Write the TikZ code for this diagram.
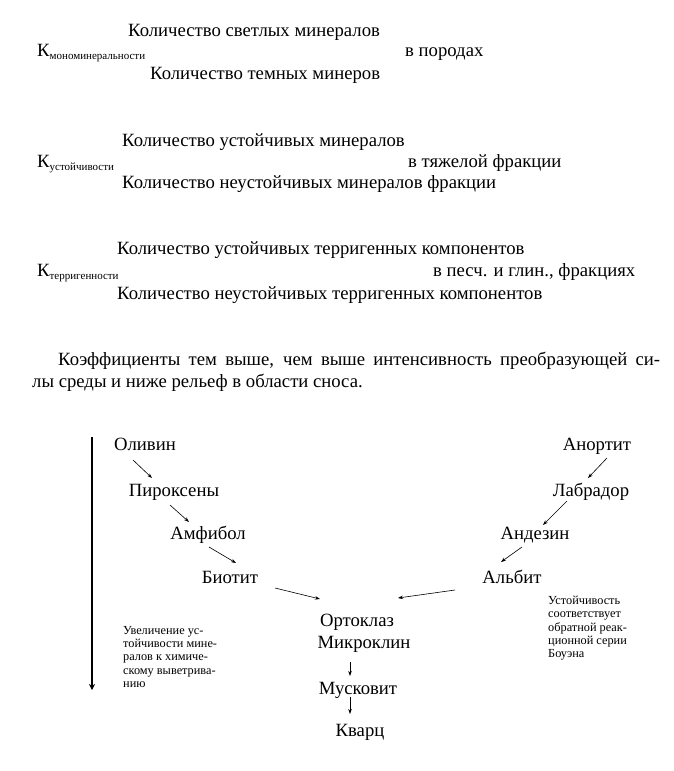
\documentclass[tikz,border=0pt]{standalone}
\usepackage{fontspec}
\setmainfont{Liberation Serif}
\usetikzlibrary{arrows.meta, positioning}

\begin{document}
\begin{tikzpicture}[x=1pt, y=-1pt,
    txt/.style={font=\fontsize{18.7}{22}\selectfont, inner sep=0pt, text height=12pt, text depth=0pt, anchor=west},
    mineral/.style={font=\fontsize{18.7}{22}\selectfont, inner sep=0pt, text height=12pt, text depth=0pt},
    note/.style={font=\fontsize{12.3}{13.3}\selectfont, align=left, anchor=north west, inner sep=0pt},
    arr/.style={-{Stealth[length=5pt, width=3.5pt]}, semithick},
]
    \useasboundingbox (0,0) rectangle (674,771);

    % coefficient 1
    \node[txt] (c1top) at (128,30) {Количество светлых минералов};
    \node[txt] (c1k) at (37,50) {К\raisebox{-3pt}{\fontsize{11}{12}\selectfont мономинеральности}};
    \node[txt] (c1in) at (405,50) {в породах};
    \node[txt] (c1bot) at (150,73) {Количество темных минеров};

    % coefficient 2
    \node[txt] (c2top) at (122,140) {Количество устойчивых минералов};
    \node[txt] (c2k) at (37,161) {К\raisebox{-3pt}{\fontsize{11}{12}\selectfont устойчивости}};
    \node[txt] (c2in) at (408,161) {в тяжелой фракции};
    \node[txt] (c2bot) at (122,182) {Количество неустойчивых минералов фракции};

    % coefficient 3
    \node[txt] (c3top) at (117,248) {Количество устойчивых терригенных компонентов};
    \node[txt] (c3k) at (37,270) {К\raisebox{-3pt}{\fontsize{11}{12}\selectfont терригенности}};
    \node[txt] (c3in) at (433,270) {в песч. и глин., фракциях};
    \node[txt] (c3bot) at (117,293) {Количество неустойчивых терригенных компонентов};

    \node[txt] (par1) at (58,359) {\makebox[602pt][s]{Коэффициенты тем выше, чем выше интенсивность преобразующей си-}};
    \node[txt] (par2) at (32,381) {лы среды и ниже рельеф в области сноса.};

    % Bowen series
    \coordinate (axtop) at (92,437);
    \coordinate (axbot) at (92,690);
    \draw[line width=2.5pt, -{Stealth[length=6pt, width=6pt]}] (axtop) -- (axbot);

    \node[mineral] (olivin) at (145,444) {Оливин};
    \node[mineral] (piroksen) at (174,490) {Пироксены};
    \node[mineral] (amfibol) at (208,533) {Амфибол};
    \node[mineral] (biotit) at (230,577) {Биотит};

    \node[mineral] (anortit) at (597,444) {Анортит};
    \node[mineral] (labrador) at (591,490) {Лабрадор};
    \node[mineral] (andezin) at (535,533) {Андезин};
    \node[mineral] (albit) at (512,577) {Альбит};

    \node[mineral] (ortoklaz) at (357,620) {Ортоклаз};
    \node[mineral] (mikroklin) at (364,642) {Микроклин};
    \node[mineral] (muskovit) at (358,688) {Мусковит};
    \node[mineral] (kvarc) at (360,730) {Кварц};

    \draw[arr] ([shift={(-12,16)}]olivin.center) -- ([shift={(-22,-12)}]piroksen.center);
    \draw[arr] ([shift={(-4,15)}]piroksen.center) -- ([shift={(-19,-11)}]amfibol.center);
    \draw[arr] ([shift={(1,14)}]amfibol.center) -- ([shift={(6,-14)}]biotit.center);
    \draw[arr] ([shift={(45,11)}]biotit.center) -- ([shift={(-37,-21)}]ortoklaz.center);

    \draw[arr] ([shift={(10,14)}]anortit.center) -- ([shift={(-3,-12)}]labrador.center);
    \draw[arr] ([shift={(-24,11)}]labrador.center) -- ([shift={(8,-8)}]andezin.center);
    \draw[arr] ([shift={(-13,14)}]andezin.center) -- ([shift={(-11,-15)}]albit.center);
    \draw[arr] ([shift={(-57,13)}]albit.center) -- ([shift={(41,-22)}]ortoklaz.center);

    \draw[arr] ([shift={(-14,20)}]mikroklin.center) -- ([shift={(-8,-12)}]muskovit.center);
    \draw[arr] ([shift={(-8,9)}]muskovit.center) -- ([shift={(-10,-16)}]kvarc.center);

    \node[note] (leftnote) at (123,626) {Увеличение ус-\\тойчивости мине-\\ралов к химиче-\\скому выветрива-\\нию};
    \node[note] (rightnote) at (548,596) {Устойчивость\\соответствует\\обратной реак-\\ционной серии\\Боуэна};
\end{tikzpicture}
\end{document}
